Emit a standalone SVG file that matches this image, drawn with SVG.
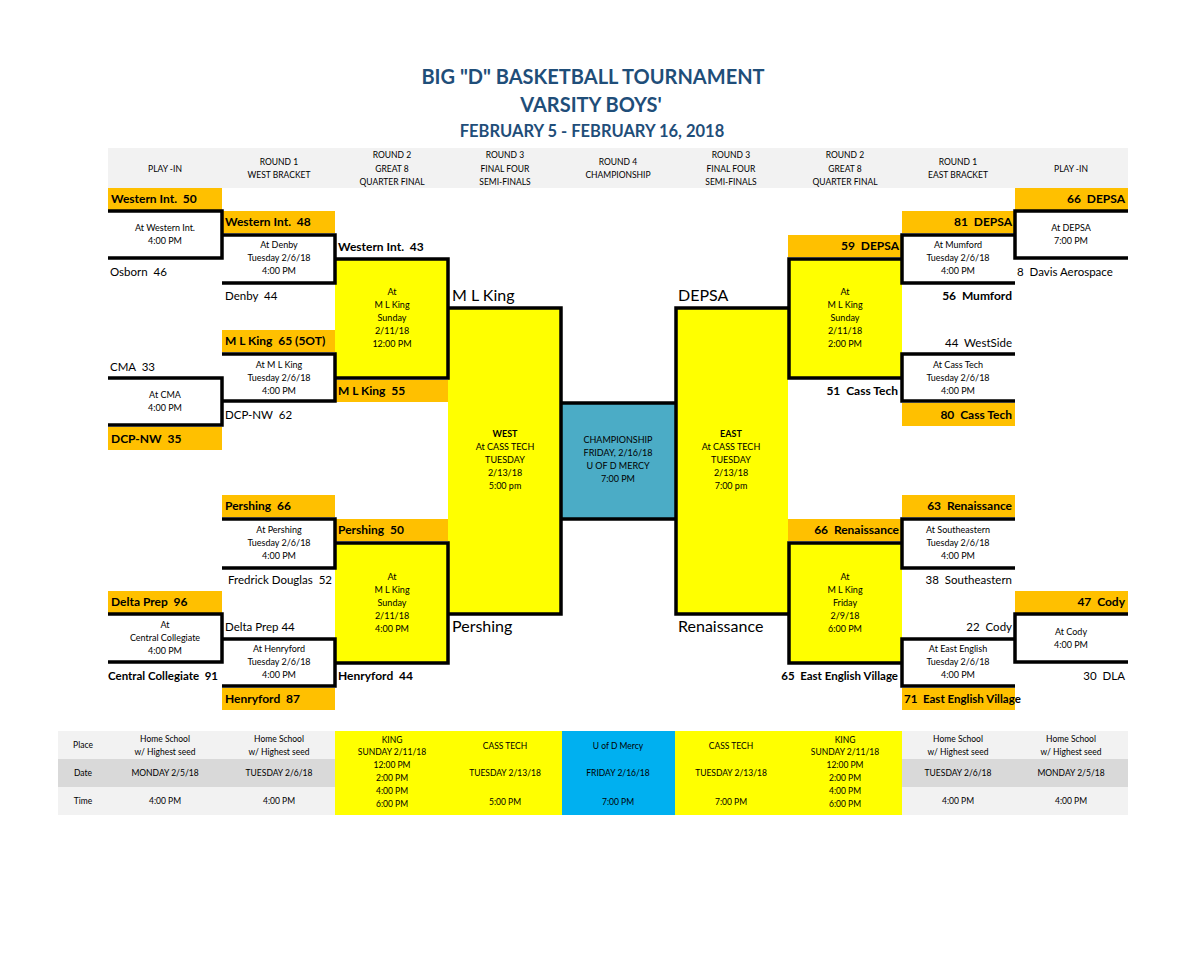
<svg xmlns="http://www.w3.org/2000/svg" width="1200" height="966" viewBox="0 0 1200 966">
<style>
text{font-family:Lato,"Liberation Sans",sans-serif;fill:#000}
.s{font-size:9px;text-anchor:middle}
.h{font-size:8.5px;text-anchor:middle}
.t{font-size:11.5px}
.b{font-weight:bold;font-size:12px}
.s.b{font-size:9px}
.e{text-anchor:end}
.big{font-size:16px}
.title{font-weight:bold;fill:#1f4e79;text-anchor:middle}
.ln{stroke:#000;stroke-width:3.5;fill:none}
.or{fill:#ffc000}
.ye{fill:#ffff00}
</style>
<rect width="1200" height="966" fill="#fff"/>
<g id="title">
<text class="title" x="593" y="84" font-size="20">BIG "D" BASKETBALL TOURNAMENT</text>
<text class="title" x="591" y="112" font-size="20">VARSITY BOYS'</text>
<text class="title" x="592" y="137" font-size="16.5">FEBRUARY 5 - FEBRUARY 16, 2018</text>
</g>
<g id="header">
<rect x="108" y="148" width="1020" height="40" fill="#f2f2f2"/>
<text class="h" x="165" y="172">PLAY -IN</text>
<text class="h" x="279" y="165">ROUND 1</text><text class="h" x="279" y="178">WEST BRACKET</text>
<text class="h" x="392" y="158">ROUND 2</text><text class="h" x="392" y="172">GREAT 8</text><text class="h" x="392" y="185">QUARTER FINAL</text>
<text class="h" x="505" y="158">ROUND 3</text><text class="h" x="505" y="172">FINAL FOUR</text><text class="h" x="505" y="185">SEMI-FINALS</text>
<text class="h" x="618" y="165">ROUND 4</text><text class="h" x="618" y="178">CHAMPIONSHIP</text>
<text class="h" x="731" y="158">ROUND 3</text><text class="h" x="731" y="172">FINAL FOUR</text><text class="h" x="731" y="185">SEMI-FINALS</text>
<text class="h" x="845" y="158">ROUND 2</text><text class="h" x="845" y="172">GREAT 8</text><text class="h" x="845" y="185">QUARTER FINAL</text>
<text class="h" x="958" y="165">ROUND 1</text><text class="h" x="958" y="178">EAST BRACKET</text>
<text class="h" x="1071" y="172">PLAY -IN</text>
</g>
<g id="fills">
<rect class="ye" x="335" y="259" width="113" height="119"/>
<rect class="ye" x="335" y="543" width="113" height="120"/>
<rect class="ye" x="448" y="308" width="114" height="306"/>
<rect x="562" y="403" width="113" height="116" fill="#4bacc6"/>
<rect class="ye" x="675" y="308" width="113" height="306"/>
<rect class="ye" x="788" y="259" width="114" height="119"/>
<rect class="ye" x="788" y="543" width="114" height="120"/>
</g>
<g id="orange-slots">
<rect class="or" x="108" y="188" width="114" height="22"/>
<rect class="or" x="222" y="211" width="113" height="22"/>
<rect class="or" x="222" y="330" width="113" height="22"/>
<rect class="or" x="335" y="380" width="113" height="22"/>
<rect class="or" x="108" y="427" width="114" height="23"/>
<rect class="or" x="222" y="495" width="113" height="22"/>
<rect class="or" x="335" y="519" width="113" height="22"/>
<rect class="or" x="108" y="591" width="114" height="22"/>
<rect class="or" x="222" y="688" width="113" height="22"/>
<rect class="or" x="1015" y="188" width="113" height="22"/>
<rect class="or" x="902" y="211" width="113" height="22"/>
<rect class="or" x="788" y="235" width="114" height="22"/>
<rect class="or" x="902" y="403" width="113" height="23"/>
<rect class="or" x="902" y="495" width="113" height="22"/>
<rect class="or" x="788" y="519" width="114" height="22"/>
<rect class="or" x="1015" y="591" width="113" height="22"/>
<rect class="or" x="902" y="688" width="113" height="22"/>
</g>
<g id="connectors">
<path class="ln" d="M108,211 H222 V258 H108"/>
<path class="ln" d="M222,235 H335 V283 H222"/>
<path class="ln" d="M222,354 H335 V401 H222"/>
<path class="ln" d="M108,378 H222 V425 H108"/>
<path class="ln" d="M222,519 H335 V568 H222"/>
<path class="ln" d="M108,614 H222 V662 H108"/>
<path class="ln" d="M222,639 H335 V686 H222"/>
<path class="ln" d="M335,259 H448 V378 H335"/>
<path class="ln" d="M335,543 H448 V663 H335"/>
<path class="ln" d="M448,308 H561 V614 H448"/>
<path class="ln" d="M562,403 H675 M562,519 H675"/>
<path class="ln" d="M788,308 H676 V614 H788"/>
<path class="ln" d="M902,259 H789 V378 H902"/>
<path class="ln" d="M902,543 H789 V663 H902"/>
<path class="ln" d="M1128,211 H1015 V258 H1128"/>
<path class="ln" d="M1015,235 H902 V283 H1015"/>
<path class="ln" d="M1015,354 H902 V401 H1015"/>
<path class="ln" d="M1015,519 H902 V568 H1015"/>
<path class="ln" d="M1128,614 H1015 V662 H1128"/>
<path class="ln" d="M1015,639 H902 V686 H1015"/>
</g>
<g id="west-playin-1">
<text class="t b" x="111" y="203">Western Int.&#160; 50</text>
<text class="s" x="165" y="231">At Western Int.</text><text class="s" x="165" y="244">4:00 PM</text>
<text class="t" x="110" y="276">Osborn&#160; 46</text>
</g>
<g id="west-playin-2">
<text class="t" x="110" y="371">CMA&#160; 33</text>
<text class="s" x="165" y="398">At CMA</text><text class="s" x="165" y="411">4:00 PM</text>
<text class="t b" x="111" y="443">DCP-NW&#160; 35</text>
</g>
<g id="west-playin-3">
<text class="t b" x="111" y="606">Delta Prep&#160; 96</text>
<text class="s" x="165" y="628">At</text><text class="s" x="165" y="641">Central Collegiate</text><text class="s" x="165" y="654">4:00 PM</text>
<text class="t b" x="108" y="680" style="font-size:11.5px">Central Collegiate&#160; 91</text>
</g>
<g id="west-r1-1">
<text class="t b" x="225" y="226">Western Int.&#160; 48</text>
<text class="s" x="279" y="248">At Denby</text><text class="s" x="279" y="261">Tuesday 2/6/18</text><text class="s" x="279" y="274">4:00 PM</text>
<text class="t" x="225" y="300">Denby&#160; 44</text>
</g>
<g id="west-r1-2">
<text class="t b" x="225" y="345">M L King&#160; 65 (5OT)</text>
<text class="s" x="279" y="368">At M L King</text><text class="s" x="279" y="381">Tuesday 2/6/18</text><text class="s" x="279" y="394">4:00 PM</text>
<text class="t" x="225" y="419">DCP-NW&#160; 62</text>
</g>
<g id="west-r1-3">
<text class="t b" x="225" y="510">Pershing&#160; 66</text>
<text class="s" x="279" y="533">At Pershing</text><text class="s" x="279" y="546">Tuesday 2/6/18</text><text class="s" x="279" y="559">4:00 PM</text>
<text class="t e" x="332" y="584">Fredrick Douglas&#160; 52</text>
</g>
<g id="west-r1-4">
<text class="t" x="225" y="631">Delta Prep 44</text>
<text class="s" x="279" y="652">At Henryford</text><text class="s" x="279" y="665">Tuesday 2/6/18</text><text class="s" x="279" y="678">4:00 PM</text>
<text class="t b" x="225" y="703">Henryford&#160; 87</text>
</g>
<g id="west-r2-1">
<text class="t b" x="338" y="251">Western Int.&#160; 43</text>
<text class="s" x="392" y="295">At</text><text class="s" x="392" y="308">M L King</text><text class="s" x="392" y="321">Sunday</text><text class="s" x="392" y="334">2/11/18</text><text class="s" x="392" y="347">12:00 PM</text>
<text class="t b" x="338" y="395">M L King&#160; 55</text>
</g>
<g id="west-r2-2">
<text class="t b" x="338" y="534">Pershing&#160; 50</text>
<text class="s" x="392" y="580">At</text><text class="s" x="392" y="593">M L King</text><text class="s" x="392" y="606">Sunday</text><text class="s" x="392" y="619">2/11/18</text><text class="s" x="392" y="632">4:00 PM</text>
<text class="t b" x="338" y="680">Henryford&#160; 44</text>
</g>
<g id="west-semi">
<text class="big" x="452" y="301">M L King</text>
<text class="s b" x="505" y="437">WEST</text><text class="s" x="505" y="450">At CASS TECH</text><text class="s" x="505" y="463">TUESDAY</text><text class="s" x="505" y="476">2/13/18</text><text class="s" x="505" y="489">5:00 pm</text>
<text class="big" x="452" y="632">Pershing</text>
</g>
<g id="championship">
<text class="s" x="618" y="443">CHAMPIONSHIP</text><text class="s" x="618" y="456">FRIDAY, 2/16/18</text><text class="s" x="618" y="469">U OF D MERCY</text><text class="s" x="618" y="482">7:00 PM</text>
</g>
<g id="east-semi">
<text class="big" x="678" y="301">DEPSA</text>
<text class="s b" x="731" y="437">EAST</text><text class="s" x="731" y="450">At CASS TECH</text><text class="s" x="731" y="463">TUESDAY</text><text class="s" x="731" y="476">2/13/18</text><text class="s" x="731" y="489">7:00 pm</text>
<text class="big" x="678" y="632">Renaissance</text>
</g>
<g id="east-r2-1">
<text class="t b e" x="899" y="250">59&#160; DEPSA</text>
<text class="s" x="845" y="295">At</text><text class="s" x="845" y="308">M L King</text><text class="s" x="845" y="321">Sunday</text><text class="s" x="845" y="334">2/11/18</text><text class="s" x="845" y="347">2:00 PM</text>
<text class="t b e" x="898" y="395">51&#160; Cass Tech</text>
</g>
<g id="east-r2-2">
<text class="t b e" x="899" y="534">66&#160; Renaissance</text>
<text class="s" x="845" y="580">At</text><text class="s" x="845" y="593">M L King</text><text class="s" x="845" y="606">Friday</text><text class="s" x="845" y="619">2/9/18</text><text class="s" x="845" y="632">6:00 PM</text>
<text class="t b e" x="898" y="680" style="font-size:11.5px">65&#160; East English Village</text>
</g>
<g id="east-r1-1">
<text class="t b e" x="1012" y="226">81&#160; DEPSA</text>
<text class="s" x="958" y="248">At Mumford</text><text class="s" x="958" y="261">Tuesday 2/6/18</text><text class="s" x="958" y="274">4:00 PM</text>
<text class="t b e" x="1012" y="300">56&#160; Mumford</text>
</g>
<g id="east-r1-2">
<text class="t e" x="1012" y="347">44&#160; WestSide</text>
<text class="s" x="958" y="368">At Cass Tech</text><text class="s" x="958" y="381">Tuesday 2/6/18</text><text class="s" x="958" y="394">4:00 PM</text>
<text class="t b e" x="1012" y="419">80&#160; Cass Tech</text>
</g>
<g id="east-r1-3">
<text class="t b e" x="1012" y="510">63&#160; Renaissance</text>
<text class="s" x="958" y="533">At Southeastern</text><text class="s" x="958" y="546">Tuesday 2/6/18</text><text class="s" x="958" y="559">4:00 PM</text>
<text class="t e" x="1012" y="584">38&#160; Southeastern</text>
</g>
<g id="east-r1-4">
<text class="t e" x="1012" y="631">22&#160; Cody</text>
<text class="s" x="958" y="652">At East English</text><text class="s" x="958" y="665">Tuesday 2/6/18</text><text class="s" x="958" y="678">4:00 PM</text>
<text class="t b" x="904" y="703" style="font-size:11.5px">71&#160; East English Village</text>
</g>
<g id="east-playin-1">
<text class="t b e" x="1125" y="203">66&#160; DEPSA</text>
<text class="s" x="1071" y="231">At DEPSA</text><text class="s" x="1071" y="244">7:00 PM</text>
<text class="t" x="1017" y="276">8&#160; Davis Aerospace</text>
</g>
<g id="east-playin-2">
<text class="t b e" x="1125" y="606">47&#160; Cody</text>
<text class="s" x="1071" y="635">At Cody</text><text class="s" x="1071" y="648">4:00 PM</text>
<text class="t e" x="1125" y="680">30&#160; DLA</text>
</g>
<g id="schedule-table">
<rect x="58" y="731" width="1070" height="84" fill="#f2f2f2"/>
<rect x="58" y="759" width="1070" height="28" fill="#d9d9d9"/>
<rect class="ye" x="335" y="731" width="227" height="84"/>
<rect x="562" y="731" width="113" height="84" fill="#00b0f0"/>
<rect class="ye" x="675" y="731" width="227" height="84"/>
<text class="h" x="83" y="748">Place</text><text class="h" x="83" y="776">Date</text><text class="h" x="83" y="804">Time</text>
<text class="h" x="165" y="742">Home School</text><text class="h" x="165" y="755">w/ Highest seed</text><text class="h" x="165" y="776">MONDAY 2/5/18</text><text class="h" x="165" y="804">4:00 PM</text>
<text class="h" x="279" y="742">Home School</text><text class="h" x="279" y="755">w/ Highest seed</text><text class="h" x="279" y="776">TUESDAY 2/6/18</text><text class="h" x="279" y="804">4:00 PM</text>
<text class="h" x="392" y="743">KING</text><text class="h" x="392" y="755">SUNDAY 2/11/18</text><text class="h" x="392" y="768">12:00 PM</text><text class="h" x="392" y="781">2:00 PM</text><text class="h" x="392" y="794">4:00 PM</text><text class="h" x="392" y="807">6:00 PM</text>
<text class="h" x="505" y="749">CASS TECH</text><text class="h" x="505" y="776">TUESDAY 2/13/18</text><text class="h" x="505" y="805">5:00 PM</text>
<text class="h" x="618" y="749">U of D Mercy</text><text class="h" x="618" y="776">FRIDAY 2/16/18</text><text class="h" x="618" y="805">7:00 PM</text>
<text class="h" x="731" y="749">CASS TECH</text><text class="h" x="731" y="776">TUESDAY 2/13/18</text><text class="h" x="731" y="805">7:00 PM</text>
<text class="h" x="845" y="743">KING</text><text class="h" x="845" y="755">SUNDAY 2/11/18</text><text class="h" x="845" y="768">12:00 PM</text><text class="h" x="845" y="781">2:00 PM</text><text class="h" x="845" y="794">4:00 PM</text><text class="h" x="845" y="807">6:00 PM</text>
<text class="h" x="958" y="742">Home School</text><text class="h" x="958" y="755">w/ Highest seed</text><text class="h" x="958" y="776">TUESDAY 2/6/18</text><text class="h" x="958" y="804">4:00 PM</text>
<text class="h" x="1071" y="742">Home School</text><text class="h" x="1071" y="755">w/ Highest seed</text><text class="h" x="1071" y="776">MONDAY 2/5/18</text><text class="h" x="1071" y="804">4:00 PM</text>
</g>
</svg>
